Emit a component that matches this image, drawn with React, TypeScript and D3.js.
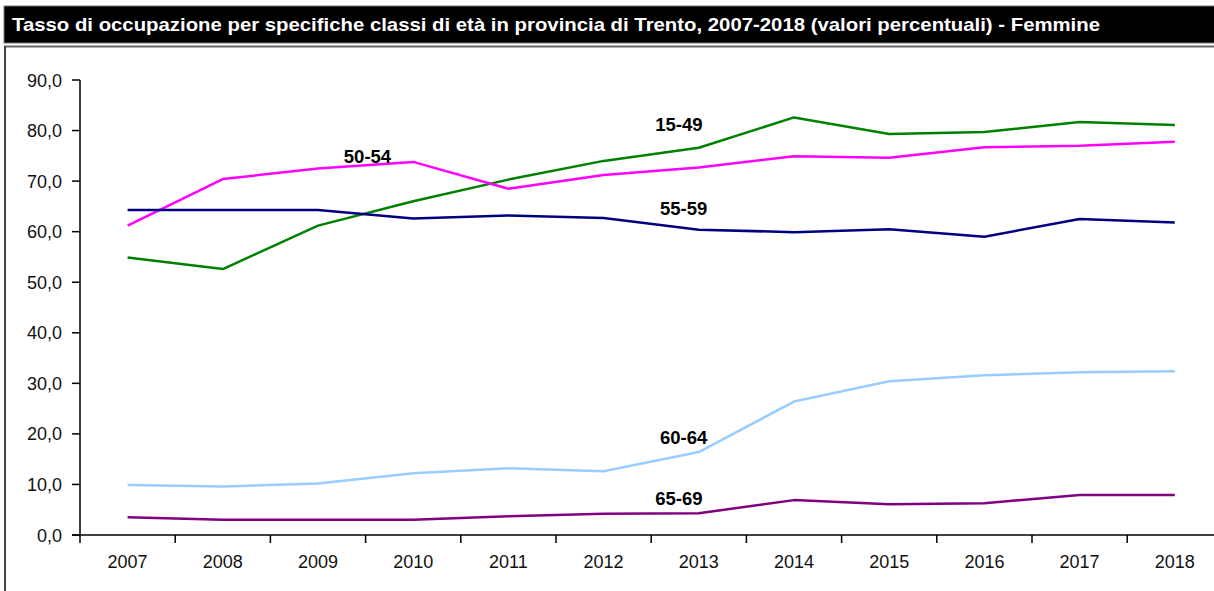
import React from "react";
import * as d3 from "d3";

const years = ["2007", "2008", "2009", "2010", "2011", "2012", "2013", "2014", "2015", "2016", "2017", "2018"];
const yTicks = [0, 10, 20, 30, 40, 50, 60, 70, 80, 90];

const age1549 = [54.9, 52.6, 61.2, 66.0, 70.3, 74.0, 76.6, 82.6, 79.3, 79.7, 81.7, 81.1];
const age5054 = [61.2, 70.4, 72.5, 73.8, 68.5, 71.2, 72.7, 74.9, 74.6, 76.7, 77.0, 77.8];
const age5559 = [64.3, 64.3, 64.3, 62.6, 63.2, 62.7, 60.4, 59.9, 60.5, 59.0, 62.5, 61.8];
const age6064 = [9.9, 9.6, 10.2, 12.2, 13.2, 12.6, 16.4, 26.4, 30.4, 31.6, 32.2, 32.4];
const age6569 = [3.5, 3.0, 3.0, 3.0, 3.7, 4.2, 4.3, 6.9, 6.1, 6.3, 7.9, 7.9];

const seriesNames = ["15-49", "50-54", "55-59", "60-64", "65-69"];
const seriesColors = ["#008000", "#ff00ff", "#000080", "#99ccff", "#800080"];
const seriesValues = [age1549, age5054, age5559, age6064, age6569];
// label anchor: [year index, value]
const labelAt: [number, number][] = [
  [5.79, 79.9],
  [2.52, 73.6],
  [5.84, 63.3],
  [5.84, 18.0],
  [5.79, 5.9],
];

const W = 1214;
const H = 591;
const left = 80;
const top = 80;
const bottom = 535;
const band = 95.2;

export default function App() {
  const x = d3
    .scaleBand<string>()
    .domain(years)
    .range([left, left + band * years.length]);
  const xc = (i: number) => left + band * (i + 0.5);
  const y = d3.scaleLinear().domain([0, 90]).range([bottom, top]);
  const line = d3
    .line<number>()
    .x((_, i) => (x(years[i]) as number) + x.bandwidth() / 2)
    .y((d) => y(d));
  const font = "'Liberation Sans', Arial, sans-serif";

  return (
    <svg
      width={W}
      height={H}
      style={{ position: "absolute", left: 0, top: 0, background: "#fff" }}
      fontFamily={font}
    >
      {/* title bar */}
      <rect x={4} y={6} width={W} height={37} fill="#000" stroke="#777" strokeWidth={1} />
      <text
        x={12}
        y={31}
        fill="#fff"
        fontSize={19}
        fontWeight="bold"
        textLength={1088}
        lengthAdjust="spacingAndGlyphs"
      >
        Tasso di occupazione per specifiche classi di età in provincia di Trento, 2007-2018 (valori percentuali) - Femmine
      </text>
      {/* frame */}
      <line x1={4} x2={W} y1={46.5} y2={46.5} stroke="#666" strokeWidth={2} />
      <line x1={5} x2={5} y1={46} y2={H} stroke="#444" strokeWidth={2} />

      {/* y axis */}
      <line x1={left} x2={left} y1={top} y2={bottom + 8} stroke="#000" strokeWidth={1.5} />
      {yTicks.map((t) => (
        <g key={t}>
          <line x1={left - 8} x2={left} y1={y(t)} y2={y(t)} stroke="#000" strokeWidth={1.5} />
          <text x={62} y={y(t) + 6.5} textAnchor="end" fontSize={18} fill="#111">
            {d3.format(".1f")(t).replace(".", ",")}
          </text>
        </g>
      ))}

      {/* x axis */}
      <line x1={left - 8} x2={W} y1={bottom} y2={bottom} stroke="#000" strokeWidth={1.5} />
      {years.map((yr, i) => (
        <g key={yr}>
          <line
            x1={(x(yr) as number) + band}
            x2={(x(yr) as number) + band}
            y1={bottom}
            y2={bottom + 8}
            stroke="#000"
            strokeWidth={1.5}
          />
          <text x={xc(i)} y={568} textAnchor="middle" fontSize={18} fill="#111">
            {yr}
          </text>
        </g>
      ))}

      {/* series */}
      {seriesValues.map((vals, k) => (
        <path
          key={seriesNames[k]}
          d={line(vals) as string}
          fill="none"
          stroke={seriesColors[k]}
          strokeWidth={2.5}
          strokeLinejoin="round"
        />
      ))}
      {seriesNames.map((name, k) => (
        <text
          key={name}
          x={xc(labelAt[k][0])}
          y={y(labelAt[k][1])}
          textAnchor="middle"
          fontSize={18.5}
          fontWeight="bold"
          fill="#000"
        >
          {name}
        </text>
      ))}
    </svg>
  );
}
